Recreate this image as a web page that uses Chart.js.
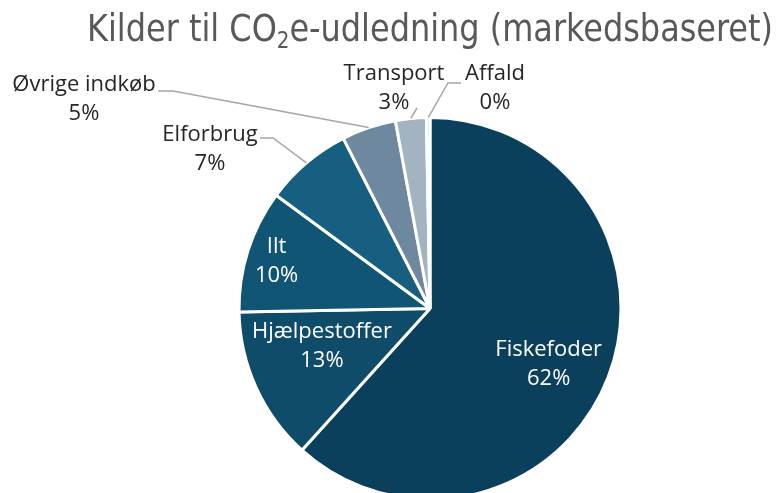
<!DOCTYPE html>
<html><head><meta charset="utf-8">
<script src="https://cdn.jsdelivr.net/npm/chart.js@4.4.1/dist/chart.umd.min.js"></script>
<style>
html,body{margin:0;padding:0;background:#fff;overflow:hidden;width:776px;height:493px}
#wrap{width:776px;height:520px;position:relative}
</style></head>
<body><div id="wrap"><canvas id="c"></canvas></div>
<script>
const titleParts = ["Kilder til CO", "2", "e-udledning (markedsbaseret)"];
const categories = ["Fiskefoder","Hjælpestoffer","Ilt","Elforbrug","Øvrige indkøb","Transport","Affald"];
const values = [61.7, 13.0, 10.4, 7.4, 4.6, 2.6, 0.3];
const colors = ["#0b405c","#0f4c6a","#115575","#175f81","#6e88a0","#a2b3c2","#c9d3dc"];

const total = values.reduce((a,b)=>a+b,0);
const pctLabels = values.map(v => Math.round(v/total*100) + "%");

// label placement (style only)
const placement = [
  {inside:true, rf:0.686, da:4},
  {inside:true, rf:0.60, da:5},
  {inside:true, rf:0.84, da:-0.6},
  {inside:false, x:210, y:149, elbow:[273,138], end:[260,138]},
  {inside:false, x:84, y:99, elbow:[173,91], end:[158,91]},
  {inside:false, x:394, y:88, elbow:null, end:[417,108]},
  {inside:false, x:495, y:88, elbow:[448,83], end:[461,83]}
];

const FONT = "'Open Sans', Roboto, sans-serif";

const labelPlugin = {
  id: 'customLabels',
  afterDraw(chart) {
    const ctx = chart.ctx;
    // title
    ctx.save();
    ctx.fillStyle = "#595959";
    ctx.textBaseline = "alphabetic";
    ctx.textAlign = "left";
    const tSize = 37, sSize = 23;
    const tf = tSize + "px 'Liberation Sans Narrow', 'DejaVu Sans Condensed', sans-serif";
    const sf = sSize + "px 'Liberation Sans Narrow', 'DejaVu Sans Condensed', sans-serif";
    ctx.font = tf; const w0 = ctx.measureText(titleParts[0]).width;
    ctx.font = sf; const w1 = ctx.measureText(titleParts[1]).width;
    ctx.font = tf; const w2 = ctx.measureText(titleParts[2]).width;
    const targetW = 686, left = 87, base = 41;
    const sc = targetW / (w0 + w1 + w2);
    ctx.translate(left, base);
    ctx.scale(sc, 1);
    ctx.font = tf; ctx.fillText(titleParts[0], 0, 0);
    ctx.font = sf; ctx.fillText(titleParts[1], w0, 7);
    ctx.font = tf; ctx.fillText(titleParts[2], w0 + w1, 0);
    ctx.restore();

    const meta = chart.getDatasetMeta(0);
    ctx.save();
    ctx.font = "22px " + FONT;
    ctx.textAlign = "center";
    ctx.textBaseline = "middle";
    const lh = 29;
    meta.data.forEach((arc, i) => {
      const p = placement[i];
      const mid = (arc.startAngle + arc.endAngle) / 2;
      const lines = [categories[i], pctLabels[i]];
      let cx, cy;
      if (p.inside) {
        const a = mid + p.da * Math.PI / 180;
        const r = arc.outerRadius * p.rf;
        cx = arc.x + Math.cos(a) * r;
        cy = arc.y + Math.sin(a) * r;
        ctx.fillStyle = "#ffffff";
      } else {
        const sx = arc.x + Math.cos(mid) * arc.outerRadius;
        const sy = arc.y + Math.sin(mid) * arc.outerRadius;
        ctx.strokeStyle = "#a6a6a6";
        ctx.lineWidth = 1.5;
        ctx.beginPath();
        ctx.moveTo(sx, sy);
        if (p.elbow) ctx.lineTo(p.elbow[0], p.elbow[1]);
        ctx.lineTo(p.end[0], p.end[1]);
        ctx.stroke();
        cx = p.x; cy = p.y;
        ctx.fillStyle = "#262626";
      }
      ctx.fillText(lines[0], cx, cy - lh / 2);
      ctx.fillText(lines[1], cx, cy + lh / 2);
    });
    ctx.restore();
  }
};

new Chart(document.getElementById('c'), {
  type: 'pie',
  data: {
    labels: categories,
    datasets: [{
      data: values,
      backgroundColor: colors,
      borderColor: "#ffffff",
      borderWidth: 3
    }]
  },
  options: {
    responsive: true,
    maintainAspectRatio: false,
    animation: false,
    layout: { padding: { top: 116, bottom: 19, left: 200, right: 116 } },
    plugins: {
      legend: { display: false },
      title: { display: false },
      tooltip: { enabled: false }
    }
  },
  plugins: [labelPlugin]
});
</script>
</body></html>
